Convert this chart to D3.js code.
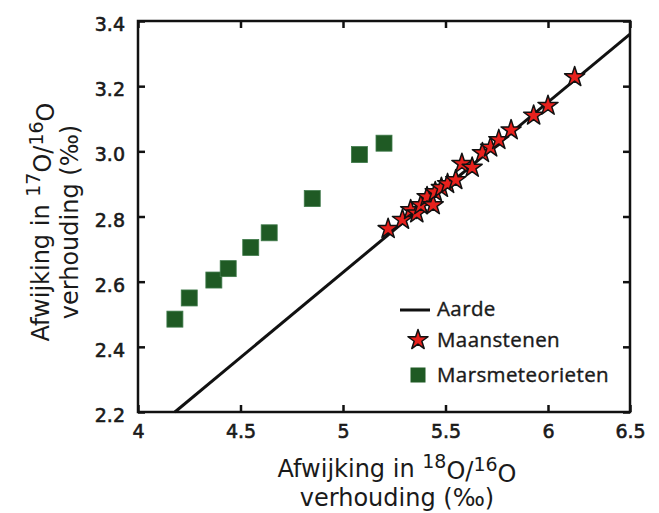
<!DOCTYPE html>
<html>
<head>
<meta charset="utf-8">
<script src="https://cdn.jsdelivr.net/npm/d3@7"></script>
<style>
body { margin: 0; background: #fff; }
</style>
</head>
<body>
<svg id="viz"></svg>
<script>
// Marsmeteorieten
var marsX = [4.18, 4.25, 4.37, 4.44, 4.55, 4.64, 4.85, 5.08, 5.2];
var marsY = [2.485, 2.55, 2.605, 2.64, 2.705, 2.75, 2.855, 2.99, 3.025];

// Maanstenen
var maanX = [5.22, 5.29, 5.33, 5.36, 5.38, 5.41, 5.44, 5.45, 5.48, 5.51, 5.55,
             5.58, 5.63, 5.68, 5.72, 5.76, 5.82, 5.93, 6.0, 6.13];
var maanY = [2.762, 2.79, 2.82, 2.81, 2.835, 2.86, 2.835, 2.875, 2.888, 2.9, 2.912,
             2.962, 2.95, 2.995, 3.012, 3.035, 3.065, 3.11, 3.14, 3.228];

// Aarde (terrestrial fractionation line)
var aardeX = [4.18, 6.4];
var aardeY = [2.2, 3.36];

var xTicks = [4, 4.5, 5, 5.5, 6, 6.4];
var xTickLabels = ["4", "4.5", "5", "5.5", "6", "6.5"];
var yTicks = [2.2, 2.4, 2.6, 2.8, 3.0, 3.2, 3.4];
var yTickLabels = ["2.2", "2.4", "2.6", "2.8", "3.0", "3.2", "3.4"];

var legendItems = ["Aarde", "Maanstenen", "Marsmeteorieten"];

var width = 659, height = 513;
var margin = {top: 21, right: 29, bottom: 101, left: 138};

var svg = d3.select("#viz")
    .attr("width", width)
    .attr("height", height);

var x = d3.scaleLinear()
    .domain([4, 6.4])
    .range([margin.left, width - margin.right]);

var y = d3.scaleLinear()
    .domain([2.2, 3.4])
    .range([height - margin.bottom, margin.top]);

var tickFont = "19px 'DejaVu Sans', sans-serif";
var titleFont = "24px 'DejaVu Sans', sans-serif";
var ink = "#1a1a1a";

// axes, ticks pointing inward
var xAxis = g => g
    .attr("transform", `translate(0,${y(2.2)})`)
    .call(d3.axisBottom(x).tickValues(xTicks).tickSize(-7).tickSizeOuter(0).tickPadding(13)
        .tickFormat((d, i) => xTickLabels[i]))
    .call(g => g.select(".domain").remove());

var yAxis = g => g
    .attr("transform", `translate(${x(4)},0)`)
    .call(d3.axisLeft(y).tickValues(yTicks).tickSize(-7).tickSizeOuter(0).tickPadding(13)
        .tickFormat((d, i) => yTickLabels[i]))
    .call(g => g.select(".domain").remove())
    .call(g => g.selectAll("text").attr("dy", "0.5em"));

var xAxisTop = g => g
    .attr("transform", `translate(0,${y(3.4)})`)
    .call(d3.axisTop(x).tickValues(xTicks).tickSize(-7).tickSizeOuter(0).tickFormat(""))
    .call(g => g.select(".domain").remove());

var yAxisRight = g => g
    .attr("transform", `translate(${x(6.4)},0)`)
    .call(d3.axisRight(y).tickValues(yTicks).tickSize(-7).tickSizeOuter(0).tickFormat(""))
    .call(g => g.select(".domain").remove());

[xAxis, yAxis, xAxisTop, yAxisRight].forEach(function(a) {
    svg.append("g").call(a)
        .call(g => g.selectAll("line").attr("stroke", "#111").attr("stroke-width", 2.5))
        .call(g => g.selectAll("text")
            .attr("fill", ink)
            .attr("stroke", ink)
            .attr("stroke-width", 0.6)
            .style("font", tickFont));
});

svg.append("rect")
    .attr("x", x(4))
    .attr("y", y(3.4))
    .attr("width", x(6.4) - x(4))
    .attr("height", y(2.2) - y(3.4))
    .attr("fill", "none")
    .attr("stroke", "#111")
    .attr("stroke-width", 2.5);

// Aarde line
var line = d3.line()
    .x(d => x(d[0]))
    .y(d => y(d[1]));

svg.append("path")
    .datum(d3.zip(aardeX, aardeY))
    .attr("d", line)
    .attr("fill", "none")
    .attr("stroke", "#111")
    .attr("stroke-width", 3);

// Marsmeteorieten squares
var sq = 16;
svg.append("g")
    .selectAll("rect")
    .data(d3.zip(marsX, marsY))
    .enter().append("rect")
    .attr("x", d => x(d[0]) - sq / 2)
    .attr("y", d => y(d[1]) - sq / 2)
    .attr("width", sq)
    .attr("height", sq)
    .attr("fill", "#1f5a24")
    .attr("stroke", "#3f7a4a")
    .attr("stroke-width", 0.8);

// Maanstenen stars
var star = d3.symbol(d3.symbolStar, 125);
svg.append("g")
    .selectAll("path")
    .data(d3.zip(maanX, maanY))
    .enter().append("path")
    .attr("transform", d => `translate(${x(d[0])},${y(d[1])})`)
    .attr("d", star)
    .attr("fill", "#e8211d")
    .attr("stroke", "#111")
    .attr("stroke-width", 1.5)
    .attr("stroke-linejoin", "round");

// legend
var legend = svg.append("g")
    .attr("transform", "translate(418,0)");

legend.append("line")
    .attr("x1", -18).attr("x2", 12)
    .attr("y1", 310).attr("y2", 310)
    .attr("stroke", "#111")
    .attr("stroke-width", 3);

legend.append("path")
    .attr("transform", "translate(0,340)")
    .attr("d", star)
    .attr("fill", "#e8211d")
    .attr("stroke", "#111")
    .attr("stroke-width", 1.5)
    .attr("stroke-linejoin", "round");

legend.append("rect")
    .attr("x", -7.5).attr("y", 367.5)
    .attr("width", 15).attr("height", 15)
    .attr("fill", "#1f5a24");

legend.selectAll("text")
    .data(legendItems)
    .enter().append("text")
    .attr("x", 19)
    .attr("y", (d, i) => [316, 347, 382][i])
    .attr("fill", ink)
    .attr("stroke", ink)
    .attr("stroke-width", 0.4)
    .style("font", "20.5px 'Open Sans', sans-serif")
    .style("letter-spacing", "0.4px")
    .text(d => d);

// axis titles
function isoTitle(t, a, b) {
    t.append("tspan").text("Afwijking in ");
    t.append("tspan").attr("dy", "-0.45em").style("font-size", "19px").text(a);
    t.append("tspan").attr("dy", "0.45em").text("O/");
    t.append("tspan").attr("dy", "-0.45em").style("font-size", "19px").text(b);
    t.append("tspan").attr("dy", "0.45em").text("O");
}

var xt = svg.append("text")
    .attr("x", 397).attr("y", 477)
    .attr("text-anchor", "middle")
    .attr("fill", ink)
    .style("font", titleFont);
isoTitle(xt, "18", "16");

svg.append("text")
    .attr("x", 397).attr("y", 506)
    .attr("text-anchor", "middle")
    .attr("fill", ink)
    .style("font", titleFont)
    .text("verhouding (‰)");

var yg = svg.append("g")
    .attr("transform", "translate(0,222) rotate(-90)");

var yt = yg.append("text")
    .attr("x", 0).attr("y", 49)
    .attr("text-anchor", "middle")
    .attr("fill", ink)
    .style("font", titleFont);
isoTitle(yt, "17", "16");

yg.append("text")
    .attr("x", 0).attr("y", 78)
    .attr("text-anchor", "middle")
    .attr("fill", ink)
    .style("font", titleFont)
    .text("verhouding (‰)");
</script>
</body>
</html>
